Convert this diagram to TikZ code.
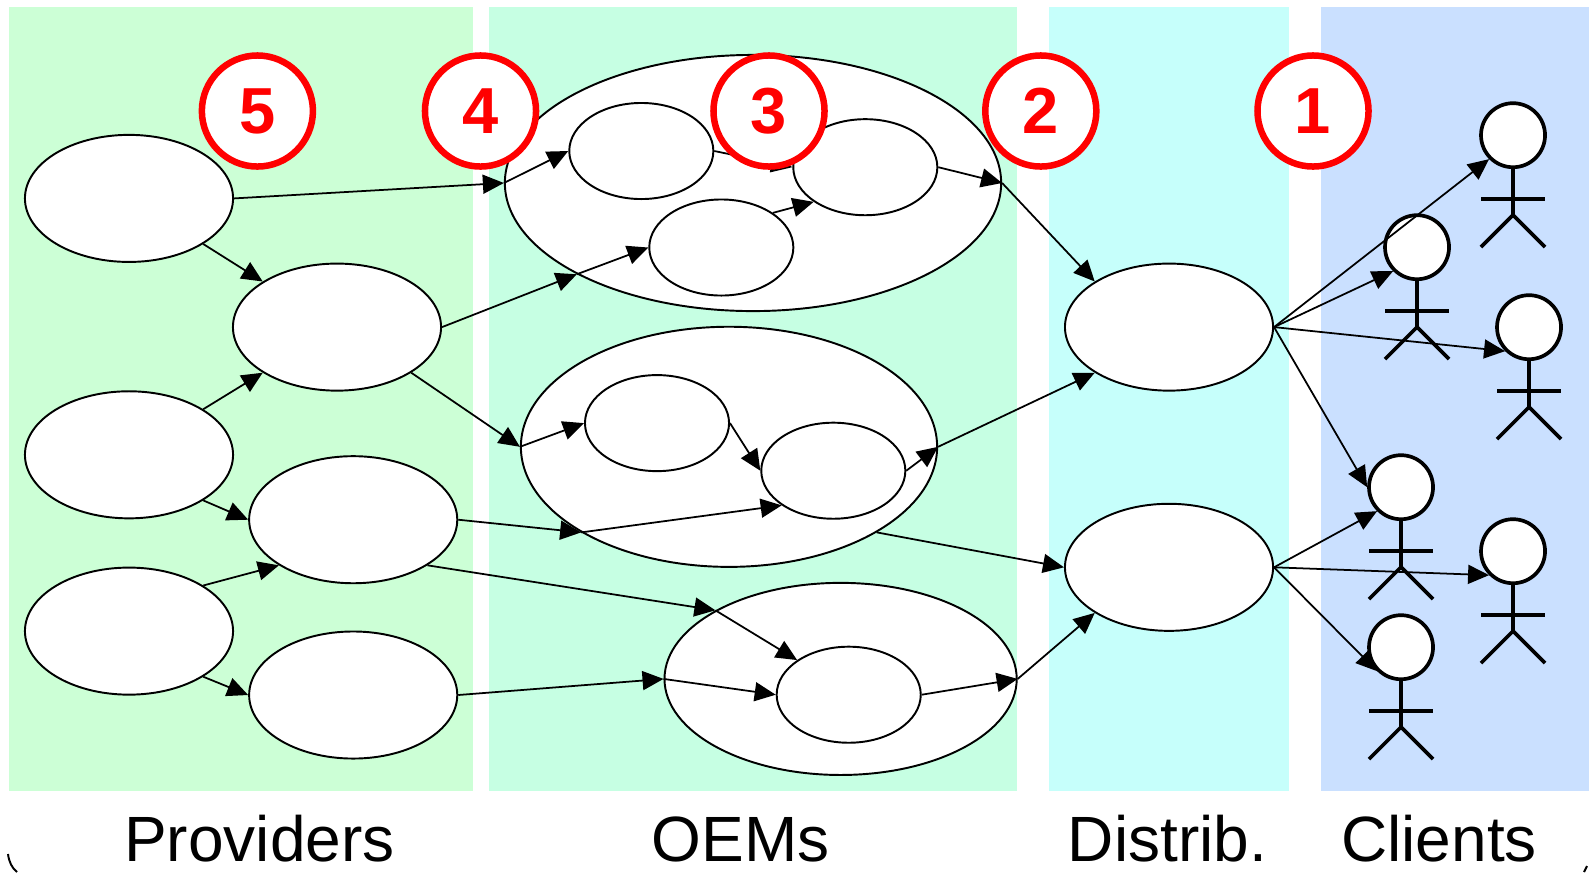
\documentclass[tikz,border=0pt]{standalone}
\usepackage{fontspec}
\setmainfont{Liberation Sans}
\usetikzlibrary{shapes.geometric}
\usetikzlibrary{arrows.meta}

\definecolor{colprov}{HTML}{CCFFD6}
\definecolor{coloem}{HTML}{C6FFE3}
\definecolor{coldist}{HTML}{C6FFFB}
\definecolor{colcli}{HTML}{CAE0FF}

\pgfdeclarelayer{arriba}
\pgfsetlayers{main,arriba}

\tikzset{
  >={Triangle[length=0.21cm,width=0.19cm]},
  flecha/.style={->, line width=0.5pt},
  nodo/.style={draw, ellipse, fill=white, line width=0.55pt, inner sep=0pt, minimum width=2.08cm, minimum height=1.27cm},
  nodoint/.style={draw, ellipse, fill=white, line width=0.55pt, inner sep=0pt, minimum width=1.44cm, minimum height=0.96cm},
  cabeza/.style={draw, circle, fill=white, line width=1.05pt, inner sep=0pt, minimum size=0.64cm},
  cuerpo/.style={line width=1.05pt},
  paso/.style={draw=red, circle, fill=white, text=red, line width=1.85pt, inner sep=0pt, minimum size=1.11cm, font=\fontsize{18.5}{20}\selectfont\bfseries},
  titulo/.style={anchor=base, inner sep=0pt, font=\fontsize{18.2}{20}\selectfont}
}

\begin{document}
\begin{tikzpicture}[x=0.01cm, y=-0.01cm]
\useasboundingbox (0,0) rectangle (1589,872);

\fill[colprov] (9,7) rectangle (473,791);
\fill[coloem] (489,7) rectangle (1017,791);
\fill[coldist] (1049,7) rectangle (1289,791);
\fill[colcli] (1321,7) rectangle (1589,791);

\draw[line width=0.55pt] (8,854) .. controls (9,862) and (12,868) .. (17,872);
\draw[line width=0.55pt] (1584,872) -- (1587,866);

\node[nodo] (P1) at (129,198.4) {};
\node[nodo] (P2) at (337,327.1) {};
\node[nodo] (P3) at (129,454.8) {};
\node[nodo] (P4) at (353.2,519.7) {};
\node[nodo] (P5) at (129,631.1) {};
\node[nodo] (P6) at (353.2,695) {};

\node[nodo, minimum width=4.96cm, minimum height=2.56cm] (O1) at (753,183) {};
\node[nodo, minimum width=4.16cm, minimum height=2.40cm] (O2) at (729,446.8) {};
\node[nodo, minimum width=3.52cm, minimum height=1.92cm] (O3) at (840.6,678.9) {};

\node[nodoint] (S1) at (641.3,151) {};
\node[nodoint] (S2) at (865.3,167.2) {};
\node[nodoint] (S3) at (721.3,247.5) {};
\node[nodoint] (S4) at (657,423.1) {};
\node[nodoint] (S5) at (833.3,470.7) {};
\node[nodoint] (S6) at (848.7,694.7) {};

\node[nodo] (D1) at (1169,327.1) {};
\node[nodo] (D2) at (1169,567.3) {};

\draw[flecha] (P1.east) -- (O1.west);
\draw[flecha] (O1.west) -- (S1.west);
\draw[flecha] (P1.south east) -- (P2.north west);
\draw[flecha] (P2.east) -- (O1.south west);
\draw[flecha] (O1.south west) -- (S3.west);
\draw[flecha] (P2.south east) -- (O2.west);
\draw[flecha] (O2.west) -- (S4.west);
\draw[flecha] (P3.north east) -- (P2.south west);
\draw[flecha] (P3.south east) -- (P4.west);
\draw[flecha] (P5.north east) -- (P4.south west);
\draw[flecha] (P5.south east) -- (P6.west);
\draw[flecha] (P4.east) -- (O2.south west);
\draw[flecha] (O2.south west) -- (S5.south west);
\draw[flecha] (S4.east) -- (S5.west);
\draw[flecha] (S5.east) -- (O2.east);
\draw[flecha] (O2.east) -- (D1.south west);
\draw[flecha] (O2.south east) -- (D2.west);
\draw[flecha] (P4.south east) -- (O3.north west);
\draw[flecha] (O3.north west) -- (S6.north west);
\draw[flecha] (P6.east) -- (O3.west);
\draw[flecha] (O3.west) -- (S6.west);
\draw[flecha] (S6.east) -- (O3.east);
\draw[flecha] (O3.east) -- (D2.south west);
\draw[flecha] (O1.east) -- (D1.north west);
\draw[flecha] (S2.east) -- (O1.east);
\draw[flecha] (S1.east) -- (S2.west);
\draw[flecha] (S3.north east) -- (S2.south west);

\begin{pgfonlayer}{arriba}
\foreach \i/\cx/\cy in {1/1513/135.2, 2/1417/247.2, 3/1529/327.2, 4/1401/487.2, 5/1513/551.2, 6/1401/647.2} {
  \node[cabeza] (C\i) at (\cx,\cy) {};
  \draw[cuerpo] (C\i.south) -- ++(0,46) coordinate (B\i);
  \draw[cuerpo] ([shift={(-32,30)}]C\i.south) -- ([shift={(32,30)}]C\i.south);
  \draw[cuerpo] ([shift={(-32,32)}]B\i) -- (B\i) -- ([shift={(32,32)}]B\i);
}
\end{pgfonlayer}

\draw[flecha] (D1.east) -- (C3.south west);
\draw[flecha] (D1.east) -- (C4.west);
\draw[flecha] (D2.east) -- (C4.south west);
\draw[flecha] (D2.east) -- (C5.south west);
\draw[flecha] (D2.east) -- (C6.south west);

\begin{pgfonlayer}{arriba}
\draw[flecha] (D1.east) -- (C1.south west);
\draw[flecha] (D1.east) -- (C2.south west);

\node[paso] (N5) at (257.4,111) {5};
\node[paso] (N4) at (480.5,111) {4};
\node[paso] (N3) at (769,111) {3};
\node[paso] (N2) at (1040.8,111) {2};
\node[paso] (N1) at (1313,111) {1};
\end{pgfonlayer}

\node[titulo] (T1) at (259.4,861.7) {Providers};
\node[titulo] (T2) at (740.8,861.7) {OEMs};
\node[titulo] (T3) at (1167.4,861.7) {Distrib.};
\node[titulo] (T4) at (1439,861.7) {Clients};
\end{tikzpicture}
\end{document}
